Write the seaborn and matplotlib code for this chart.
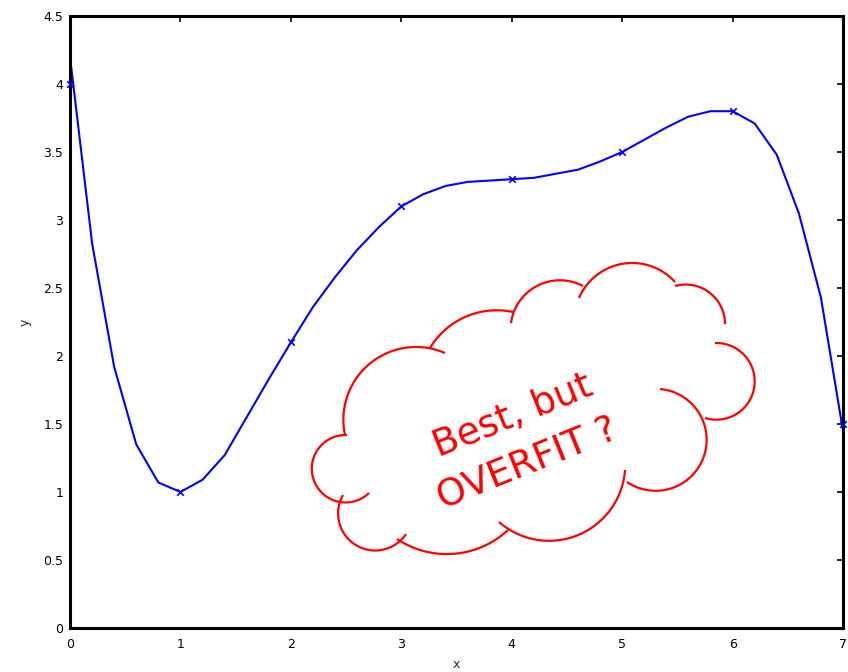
import numpy as np
import pandas as pd
import seaborn as sns
import matplotlib
matplotlib.use("Agg")
import matplotlib.pyplot as plt
from matplotlib.lines import Line2D

# ---- data ----
curve_x = [0.0, 0.2, 0.4, 0.6, 0.8, 1.0, 1.2, 1.4, 1.6, 1.8, 2.0, 2.2, 2.4, 2.6, 2.8,
           3.0, 3.2, 3.4, 3.6, 3.8, 4.0, 4.2, 4.4, 4.6, 4.8, 5.0, 5.2, 5.4, 5.6, 5.8,
           6.0, 6.2, 6.4, 6.6, 6.8, 7.0]
curve_y = [4.20, 2.83, 1.92, 1.35, 1.07, 1.00, 1.09, 1.27, 1.55, 1.83, 2.10, 2.36, 2.58,
           2.78, 2.95, 3.10, 3.19, 3.25, 3.28, 3.29, 3.30, 3.31, 3.34, 3.37, 3.43, 3.50,
           3.59, 3.68, 3.76, 3.80, 3.80, 3.71, 3.48, 3.05, 2.43, 1.45]
point_x = [0, 1, 2, 3, 4, 5, 6, 7]
point_y = [4.0, 1.0, 2.1, 3.1, 3.3, 3.5, 3.8, 1.5]
x_ticks = [0, 1, 2, 3, 4, 5, 6, 7]
y_ticks = [0, 0.5, 1, 1.5, 2, 2.5, 3, 3.5, 4, 4.5]
y_tick_labels = ["0", "0.5", "1", "1.5", "2", "2.5", "3", "3.5", "4", "4.5"]
note_lines = ["Best, but", "OVERFIT ?"]

W, H = 848, 672
sns.set_style("white")
fig = plt.figure(figsize=(W / 100, H / 100), dpi=100)
ax = fig.add_axes([70 / W, 1 - 628 / H, (843 - 70) / W, (628 - 16) / H])

curve = pd.DataFrame({"x": curve_x, "y": curve_y})
pts = pd.DataFrame({"x": point_x, "y": point_y})
sns.lineplot(data=curve, x="x", y="y", ax=ax, color="#0000ff", linewidth=1.5,
             sort=False, estimator=None, clip_on=False)
sns.scatterplot(data=pts, x="x", y="y", ax=ax, marker="x", color="#0000ff",
                s=22, linewidth=1.2, zorder=3, clip_on=False)

ax.set_xlim(0, 7)
ax.set_ylim(0, 4.5)
ax.set_xticks(x_ticks)
ax.set_xticklabels([str(t) for t in x_ticks])
ax.set_yticks(y_ticks)
ax.set_yticklabels(y_tick_labels)
ax.tick_params(direction="in", length=4, width=1.2, top=True, right=True,
               labelsize=9, colors="black")
ax.tick_params(axis="x", pad=7)
ax.tick_params(axis="y", pad=5)
for s in ax.spines.values():
    s.set_linewidth(2.2)
    s.set_color("black")
ax.set_xlabel("x", fontsize=9, labelpad=5)
ax.set_ylabel("y", fontsize=9, labelpad=8)


# ---- cloud callout (decoration, figure pixel coords with y downward) ----
def arc3(p1, p2, p3, n=60):
    (x1, y1), (x2, y2), (x3, y3) = p1, p2, p3
    d = 2 * (x1 * (y2 - y3) + x2 * (y3 - y1) + x3 * (y1 - y2))
    ux = ((x1**2 + y1**2) * (y2 - y3) + (x2**2 + y2**2) * (y3 - y1) + (x3**2 + y3**2) * (y1 - y2)) / d
    uy = ((x1**2 + y1**2) * (x3 - x2) + (x2**2 + y2**2) * (x1 - x3) + (x3**2 + y3**2) * (x2 - x1)) / d
    r = np.hypot(x1 - ux, y1 - uy)
    a1 = np.arctan2(y1 - uy, x1 - ux)
    a2 = np.arctan2(y2 - uy, x2 - ux)
    a3 = np.arctan2(y3 - uy, x3 - ux)
    d13 = (a3 - a1) % (2 * np.pi)
    d12 = (a2 - a1) % (2 * np.pi)
    if d12 < d13:
        t = np.linspace(a1, a1 + d13, n)
    else:
        t = np.linspace(a1, a1 - (2 * np.pi - d13), n)
    return ux + r * np.cos(t), uy + r * np.sin(t)


lobes = [
    ((347, 435), (312, 465), (369, 493)),
    ((343, 495), (345, 535), (406, 534)),
    ((397, 539), (443, 554), (508, 530)),
    ((499, 522), (560, 540), (625, 470)),
    ((660, 389), (705, 427), (627, 482)),
    ((705, 418), (750, 363), (715, 343)),
    ((725, 324), (710, 293), (675, 286)),
    ((675, 282), (633, 263), (579, 298)),
    ((583, 286), (547, 282), (511, 323)),
    ((513, 312), (470, 315), (430, 348)),
    ((445, 353), (363, 370), (345, 435)),
]
for p1, p2, p3 in lobes:
    xs, ys = arc3(p1, p2, p3)
    fig.add_artist(Line2D(xs / W, 1 - ys / H, transform=fig.transFigure,
                          color="#ff0000", linewidth=1.6, solid_capstyle="butt"))

fig.text(513 / W, 1 - 416 / H, note_lines[0], color="#ff0000", fontsize=27,
         rotation=22, ha="center", va="center", rotation_mode="anchor",
         family="DejaVu Sans")
fig.text(528 / W, 1 - 464 / H, note_lines[1], color="#ff0000", fontsize=27,
         rotation=22, ha="center", va="center", rotation_mode="anchor",
         family="DejaVu Sans")

fig.savefig("out.png", dpi=100)
